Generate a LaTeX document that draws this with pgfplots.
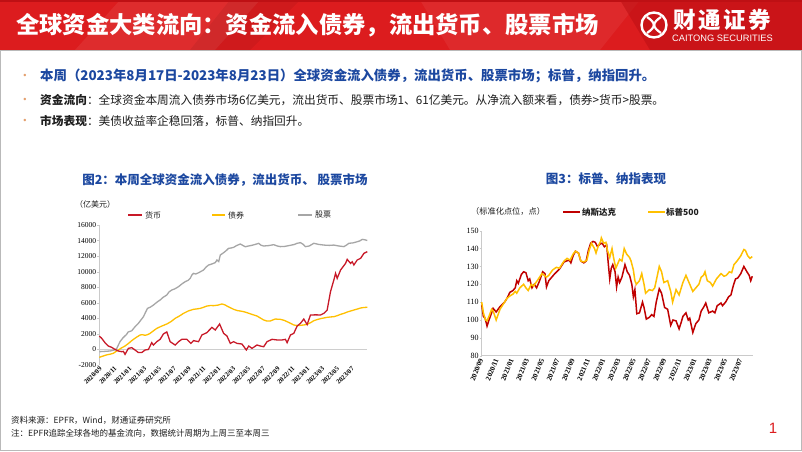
\documentclass[border=0pt]{standalone}
\usepackage{fontspec}
\setmainfont{Liberation Serif}
\newfontfamily\cjk{Noto Sans CJK SC}
\newfontfamily\serif{Liberation Serif}
\newfontfamily\sans{Liberation Sans}
\usepackage{pgfplots}
\pgfplotsset{compat=1.18}
\definecolor{hdrred}{RGB}{220,28,30}
\definecolor{hdrdark}{RGB}{190,16,20}
\definecolor{titleblue}{RGB}{28,72,160}
\definecolor{bulletor}{RGB}{228,160,110}
\definecolor{c1red}{RGB}{200,25,40}
\definecolor{c1yel}{RGB}{255,192,0}
\definecolor{c1gray}{RGB}{166,166,166}
\definecolor{c2red}{RGB}{192,0,0}
\definecolor{c2yel}{RGB}{255,192,0}
\definecolor{txt}{RGB}{30,30,30}
\begin{document}
\begin{tikzpicture}[x=1pt,y=1pt]
\path[use as bounding box] (0,0) rectangle (802,451);
\fill[white] (0,0) rectangle (802,451);
% header band
\fill[hdrred] (0,401) rectangle (802,451);
\fill[white,opacity=0.07] (120,451) -- (260,451) -- (215,401) -- (75,401) -- cycle;
\fill[white,opacity=0.06] (420,451) -- (640,451) -- (600,401) -- (450,401) -- cycle;
\fill[black,opacity=0.06] (230,451) -- (300,451) -- (250,401) -- (190,401) -- cycle;
\fill[hdrdark,opacity=0.6] (620,451) -- (802,451) -- (802,401) -- (650,401) -- cycle;
\fill[hdrdark] (0,449) rectangle (802,451);
\draw[gray!55, line width=0.8] (0.5,0.5) rectangle (801.5,401);
\node[anchor=west, text=white, font=\cjk\bfseries\fontsize{23.3}{23}\selectfont, inner sep=0] at (16,426) {全球资金大类流向：资金流入债券，流出货币、股票市场};
% logo
\draw[white, line width=2.4] (654,426) circle (12.5);
\draw[white, line width=2.2] (647,434) .. controls (656,428) and (656,424) .. (647,418);
\draw[white, line width=2.2] (661,434) .. controls (652,428) and (652,424) .. (661,418);
\node[anchor=west, text=white, font=\cjk\bfseries\fontsize{22.5}{22}\selectfont, inner sep=0] at (673,431) {财\hspace{2.5pt}通\hspace{2.5pt}证\hspace{2.5pt}券};
\node[anchor=west, text=white, font=\sans\fontsize{9.3}{9}\selectfont, inner sep=0] at (672,413) {CAITONG SECURITIES};
% bullets
\foreach \yy in {375,351,330} {\node[text=bulletor, font=\sans\fontsize{9}{9}\selectfont] at (25,\yy) {•};}
\node[anchor=west, text=titleblue, font=\cjk\bfseries\fontsize{13.4}{13}\selectfont, inner sep=0] at (40,375) {本周（2023年8月17日-2023年8月23日）全球资金流入债券，流出货币、股票市场；标普，纳指回升。};
\node[anchor=west, text=txt, font=\cjk\fontsize{11.7}{12}\selectfont, inner sep=0] at (40,351) {\textbf{资金流向}：全球资金本周流入债券市场6亿美元，流出货币、股票市场1、61亿美元。从净流入额来看，债券>货币>股票。};
\node[anchor=west, text=txt, font=\cjk\fontsize{11.7}{12}\selectfont, inner sep=0] at (40,330) {\textbf{市场表现}：美债收益率企稳回落，标普、纳指回升。};
% chart titles
\node[text=titleblue, font=\cjk\bfseries\fontsize{12.5}{12.5}\selectfont, inner sep=0] at (225,270.5) {图2：本周全球资金流入债券，流出货币、 股票市场};
\node[text=titleblue, font=\cjk\bfseries\fontsize{12.5}{12.5}\selectfont, inner sep=0] at (606,272) {图3：标普、纳指表现};
% chart 1 legend
\node[anchor=west, font=\cjk\fontsize{8}{8}\selectfont, text=txt, inner sep=0] at (75,246.7) {（亿美元）};
\draw[c1red, line width=1.5] (128,236) -- (142,236);
\node[anchor=west, font=\cjk\fontsize{8}{8}\selectfont, text=txt, inner sep=0] at (145,236) {货币};
\draw[c1yel, line width=1.5] (212,236) -- (225,236);
\node[anchor=west, font=\cjk\fontsize{8}{8}\selectfont, text=txt, inner sep=0] at (228,236) {债券};
\draw[c1gray, line width=1.5] (298,236) -- (312,236);
\node[anchor=west, font=\cjk\fontsize{8}{8}\selectfont, text=txt, inner sep=0] at (315,236) {股票};
% chart 2 legend
\node[anchor=west, font=\cjk\fontsize{8.2}{8}\selectfont, text=txt, inner sep=0] at (471,239.3) {（标准化点位，点）};
\draw[c2red, line width=1.6] (563,239) -- (580,239);
\node[anchor=west, font=\cjk\bfseries\fontsize{8.5}{8}\selectfont, text=txt, inner sep=0] at (582,239) {纳斯达克};
\draw[c2yel, line width=1.6] (648,239) -- (665,239);
\node[anchor=west, font=\cjk\bfseries\fontsize{8.5}{8}\selectfont, text=txt, inner sep=0] at (666,239) {标普500};
% footer
\node[anchor=west, font=\cjk\fontsize{8.5}{8.5}\selectfont, text=txt, inner sep=0] at (11,31) {资料来源：EPFR，Wind，财通证券研究所};
\node[anchor=west, font=\cjk\fontsize{8.5}{8.5}\selectfont, text=txt, inner sep=0] at (11,18) {注：EPFR追踪全球各地的基金流向，数据统计周期为上周三至本周三};
\node[font=\sans\fontsize{15}{15}\selectfont, text=hdrred] at (773,23) {1};

% ---------------- chart 1 ----------------
\begin{axis}[
  at={(99.3pt,86pt)}, anchor=south west, scale only axis,
  width=268pt, height=140pt,
  xmin=0, xmax=36.13, ymin=-2000, ymax=16000,
  axis x line*=bottom, axis y line*=left,
  x axis line style={draw=none},
  y axis line style={draw=c1gray!60, line width=0.6pt, -},
  ytick={-2000,0,2000,4000,6000,8000,10000,12000,14000,16000},
  xtick={0.3,2.3,4.3,6.3,8.3,10.3,12.3,14.3,16.3,18.3,20.3,22.3,24.3,26.3,28.3,30.3,32.3,34.3},
  xticklabels={2020/09,2020/11,2021/01,2021/03,2021/05,2021/07,2021/09,2021/11,2022/01,2022/03,2022/05,2022/07,2022/09,2022/11,2023/01,2023/03,2023/05,2023/07},
  x tick label style={rotate=45, anchor=east, font=\serif\bfseries\fontsize{6.7}{7}\selectfont, inner sep=1pt},
  y tick label style={font=\serif\fontsize{7.5}{8}\selectfont, inner sep=1pt},
  /pgf/number format/1000 sep={},
  /pgf/number format/assume math mode=true,
  scaled y ticks=false,
  xtick style={draw=none}, ytick style={draw=c1gray!60},
  major tick length=2pt, tick align=outside,
  clip=false,
]
\addplot[c1gray!55, line width=0.6pt, forget plot] coordinates {(0,0) (36.13,0)};
\addplot[c1gray, line width=1.3pt] coordinates {
(0,-290)(0.7,-250)(1.44,-200)(2.0,-80)(2.34,100)(2.79,1000)(3.2,1500)(3.69,1950)(3.9,2250)(4.37,2400)(4.8,2900)(5.27,3360)(5.95,4210)(6.49,5280)(6.9,5450)(7.30,5710)(7.8,6100)(8.20,6360)(8.6,6700)(9.10,7000)(9.4,7400)(9.77,7640)(10.2,7800)(10.68,8070)(11.1,8400)(11.58,8710)(12.0,8900)(12.25,9140)(12.50,9600)(12.70,9780)(13.0,9700)(13.38,9860)(14.05,10210)(14.4,10600)(14.73,10850)(15.2,11000)(15.63,11160)(15.86,11500)(16.1,11300)(16.31,12140)(16.76,12440)(17.1,12700)(17.43,13000)(17.8,13050)(18.11,13130)(18.5,13350)(19.01,13560)(19.3,13400)(19.68,13200)(20.1,13300)(20.59,13390)(21.0,13500)(21.49,13640)(21.8,13400)(22.16,13300)(22.8,13350)(23.51,13470)(24.0,13300)(24.41,13220)(25.0,13250)(25.77,13390)(26.3,13500)(26.67,13650)(27.12,13730)(27.5,13500)(27.79,13220)(28.3,13300)(28.92,13650)(29.6,13500)(30.27,13420)(31.0,13380)(31.62,13420)(32.3,13300)(32.97,13220)(33.3,13400)(33.65,13650)(34.2,13700)(34.77,13850)(35.1,13950)(35.45,14150)(35.8,14100)(36.13,14000)};
\addplot[c1yel, line width=1.3pt] coordinates {
(0,-1010)(0.5,-850)(0.99,-700)(1.5,-600)(1.89,-490)(2.2,-300)(2.57,-70)(3.0,200)(3.47,440)(3.9,750)(4.37,1130)(4.9,1500)(5.50,1860)(5.8,1900)(6.17,1820)(6.5,1900)(6.85,2070)(7.3,2400)(7.75,2710)(8.4,3000)(9.10,3270)(9.7,3600)(10.23,4000)(10.8,4300)(11.35,4640)(12.0,4950)(12.70,5160)(13.2,5220)(13.60,5280)(14.0,5400)(14.50,5580)(15.0,5650)(15.41,5630)(16.0,5700)(16.53,5850)(16.9,5750)(17.21,5580)(17.7,5350)(18.11,5160)(18.6,5000)(19.01,4940)(19.5,4850)(19.91,4730)(20.6,4500)(21.26,4300)(21.7,4050)(22.16,3790)(22.6,3650)(23.06,3660)(23.4,3800)(23.74,3910)(24.41,3870)(24.9,3750)(25.32,3570)(25.8,3350)(26.22,3140)(26.7,3080)(27.12,3100)(27.6,3150)(28.02,3230)(28.5,3450)(28.92,3700)(29.4,3850)(29.82,3960)(30.3,4050)(30.72,4130)(31.2,4180)(31.62,4210)(32.1,4350)(32.52,4510)(33.0,4650)(33.42,4810)(33.9,4950)(34.32,5070)(34.8,5200)(35.23,5330)(35.7,5400)(36.13,5420)};
\addplot[c1red, line width=1.3pt] coordinates {
(0,1730)(0.32,1430)(0.77,870)(1.22,440)(1.67,270)(2.12,0)(2.57,-200)(3.02,-290)(3.25,-250)(3.47,-630)(3.92,140)(4.37,230)(4.82,-70)(5.27,-400)(5.72,-400)(6.17,-70)(6.62,0)(7.07,870)(7.30,560)(7.75,1000)(8.20,1300)(8.65,2000)(9.10,2250)(9.55,1000)(10.23,570)(10.68,1000)(11.13,1300)(11.80,1300)(12.34,780)(12.70,1130)(13.38,1000)(13.83,1860)(14.50,2160)(15.18,2840)(15.63,2500)(16.22,3270)(16.76,2070)(17.21,1730)(17.66,780)(18.11,1000)(18.56,780)(19.23,700)(19.82,-70)(20.14,440)(20.59,140)(21.26,570)(21.71,440)(22.16,350)(22.61,1000)(23.29,1300)(23.96,1220)(24.64,1220)(25.09,1300)(25.32,870)(25.77,1860)(26.22,2070)(26.67,3010)(27.12,3360)(27.57,3910)(28.02,3190)(28.47,4430)(29.2,4450)(29.82,4430)(30.27,4640)(30.72,5070)(31.17,7430)(31.62,8930)(31.85,9780)(32.07,9140)(32.52,10200)(33.20,11070)(33.42,11580)(33.87,11070)(34.10,11280)(34.32,10860)(34.77,11500)(35.23,11720)(35.68,12360)(36.13,12570)};
\end{axis}

% ---------------- chart 2 ----------------
\begin{axis}[
  at={(481.7pt,95.3pt)}, anchor=south west, scale only axis,
  width=271.3pt, height=125pt,
  xmin=0, xmax=35.6, ymin=80, ymax=150,
  axis x line*=bottom, axis y line*=left,
  x axis line style={draw=c1gray!60, line width=0.6pt, -},
  y axis line style={draw=c1gray!60, line width=0.6pt, -},
  ytick={80,90,100,110,120,130,140,150},
  xtick={0,2,4,6,8,10,12,14,16,18,20,22,24,26,28,30,32,34},
  xticklabels={2020/09,2020/11,2021/01,2021/03,2021/05,2021/07,2021/09,2021/11,2022/01,2022/03,2022/05,2022/07,2022/09,2022/11,2023/01,2023/03,2023/05,2023/07},
  x tick label style={rotate=68, anchor=east, font=\serif\bfseries\fontsize{7.2}{7}\selectfont, inner sep=1pt},
  y tick label style={font=\serif\fontsize{8}{8}\selectfont, inner sep=1pt},
  /pgf/number format/assume math mode=true,
  xtick style={draw=none}, ytick style={draw=c1gray!60},
  major tick length=2pt, tick align=outside,
  clip=false,
]
\addplot[c2red, line width=1.5pt] coordinates {
(0,108.5)(0.22,102)(0.45,101)(0.7,96.6)(1.0,100.5)(1.3,104)(1.5,106.5)(1.9,104.5)(2.4,107.5)(3.0,110)(3.3,112)(3.7,115.5)(4.1,116.5)(4.4,118)(4.6,122)(4.8,120.5)(5.2,125.5)(5.5,127)(5.8,126.5)(6.1,122)(6.3,123)(6.6,118)(6.9,120)(7.2,118)(7.6,122)(8.0,127)(8.3,126)(8.5,118.5)(8.8,122)(9.2,124)(9.6,126)(10.2,128.5)(10.8,132.5)(11.1,133)(11.5,133.5)(11.7,132)(12.0,136)(12.3,138.5)(12.7,137.5)(13.0,133)(13.4,132)(13.7,133)(14.0,139)(14.3,143)(14.6,144)(14.9,143.5)(15.2,141)(15.5,142.5)(15.8,143)(16.1,141)(16.4,142)(16.6,132)(16.8,123)(17.0,129)(17.2,131)(17.5,127)(17.7,118.5)(17.9,124)(18.1,121)(18.4,124)(18.8,131)(19.1,127)(19.4,125)(19.7,120)(19.9,113)(20.1,117)(20.35,103.5)(20.7,104)(21.1,110)(21.3,107)(21.6,100.5)(22.0,101.5)(22.3,103)(22.6,102)(22.9,110)(23.3,117.5)(23.6,115)(24.0,107)(24.4,106)(24.8,97)(25.1,100)(25.5,99.5)(25.9,95)(26.2,99)(26.4,102)(26.8,104)(27.1,100)(27.3,101)(27.7,93)(28.1,98)(28.5,100)(28.8,105)(29.1,107)(29.4,109.5)(29.8,104)(30.3,105)(30.6,104)(30.9,108)(31.4,109.5)(31.6,108)(32.0,110)(32.4,113)(32.7,114)(33.0,119)(33.3,123)(33.6,123.5)(34.0,126)(34.4,130)(34.8,127)(35.1,125)(35.3,122)(35.5,124.5)};
\addplot[c2yel, line width=1.5pt] coordinates {
(0,110)(0.22,104)(0.5,100)(0.7,99.5)(1.0,102.5)(1.3,106)(1.5,105)(1.9,100)(2.4,106)(3.0,110)(3.3,112)(3.7,113.5)(4.1,114.5)(4.4,116)(4.6,115)(5.0,118)(5.5,120)(5.8,118)(6.1,116.5)(6.5,120)(6.8,119)(7.2,121.5)(7.6,124)(7.9,126)(8.2,125)(8.5,124)(8.8,125)(9.3,128)(9.8,129.5)(10.2,129)(10.8,133)(11.2,134.5)(11.6,133.5)(12.0,137)(12.3,138.5)(12.7,137.5)(13.0,133)(13.4,132.5)(13.8,133.5)(14.1,139)(14.4,143)(14.8,140)(15.0,137.5)(15.3,141.5)(15.6,144)(15.7,146)(16.0,143)(16.3,143.5)(16.5,139)(16.8,135)(17.1,140)(17.3,135)(17.6,129)(17.8,131)(18.1,134)(18.4,133)(18.7,140)(19.0,137)(19.4,135)(19.6,133)(19.9,128)(20.1,122)(20.3,120)(20.7,122)(21.0,126)(21.3,120)(21.5,115)(22.0,117)(22.4,116.5)(22.7,118)(23.0,124)(23.3,130)(23.6,127)(23.9,121)(24.4,122)(24.8,116)(25.05,110)(25.5,117)(25.9,114)(26.4,121)(26.8,125)(27.2,121)(27.7,116)(28.1,118)(28.5,120)(28.8,124)(29.1,125)(29.3,127)(29.6,122)(30.0,121)(30.3,119)(30.8,123)(31.4,126)(31.8,124.5)(32.1,125)(32.5,127)(32.8,126.5)(33.1,131)(33.5,133)(34.0,136)(34.4,139.5)(34.6,139)(34.9,136)(35.2,134.5)(35.5,135.5)};
\end{axis}
\end{tikzpicture}
\end{document}
